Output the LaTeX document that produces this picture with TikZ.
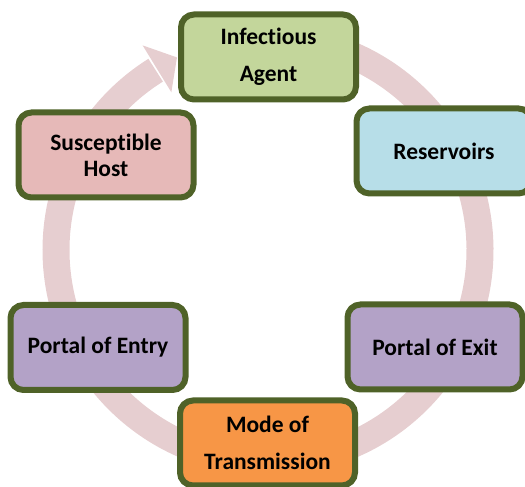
\documentclass[tikz,border=0pt]{standalone}
\usepackage{fontspec}
\setmainfont{Carlito}[RawFeature=-liga]
\begin{document}
\begin{tikzpicture}[x=1pt,y=1pt,
  stage/.style={draw=olivedark, line width=6pt, rounded corners=13pt,
    minimum width=175pt, minimum height=85pt, align=center,
    font=\fontsize{23.5}{37}\selectfont\bfseries, text=black},
  cycle ring/.style={draw=ringpink, line width=27pt}]
\definecolor{olivedark}{HTML}{4F6228}
\definecolor{ringpink}{HTML}{E6CED0}
\definecolor{agentgreen}{HTML}{C3D69B}
\definecolor{reservblue}{HTML}{B7DEE8}
\definecolor{portalviolet}{HTML}{B3A2C7}
\definecolor{modeorange}{HTML}{F79646}
\definecolor{hostpink}{HTML}{E6B9B8}

\useasboundingbox (0,0) rectangle (525,487);

% circular arrow running clockwise behind the stages
\coordinate (ctr) at (268,237);
\draw[cycle ring] (ctr) ++(95:212) arc[start angle=95, end angle=-238, radius=212];
\fill[ringpink, shift={(268,237)}] (121.5:240) -- (115.3:213) -- (121.5:185) -- cycle;

% stages of the chain
\node[stage, fill=agentgreen]   (agent) at (268.5,430) {Infectious\\Agent};
\node[stage, fill=reservblue]   (reserv) at (444,336) {Reservoirs};
\node[stage, fill=portalviolet] (exit) at (435,140) {Portal of Exit};
\node[stage, fill=modeorange]   (mode) at (267.5,44) {Mode of\\Transmission};
\node[stage, fill=portalviolet] (entry) at (98,139.5) {Portal of Entry};
\node[stage, fill=hostpink, font=\fontsize{23.5}{26}\selectfont\bfseries]
  (host) at (106,332) {Susceptible\\Host};
\end{tikzpicture}
\end{document}
